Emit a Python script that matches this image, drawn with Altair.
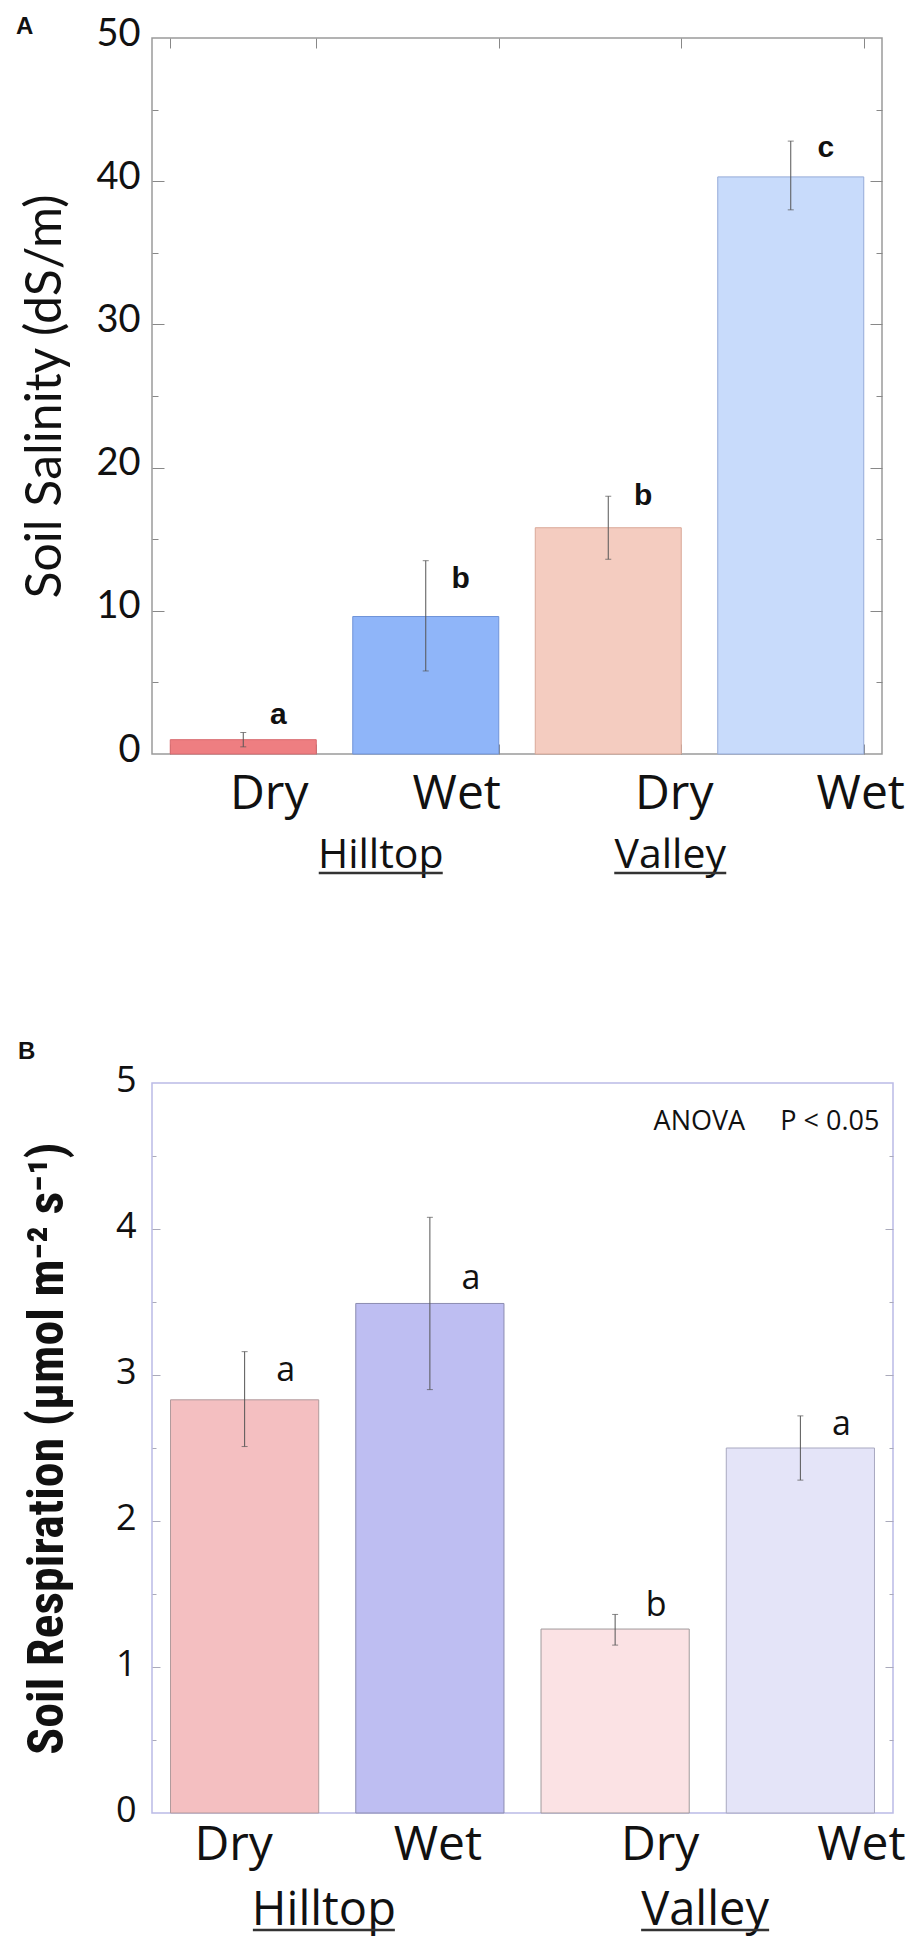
import altair as alt
import pandas as pd

# ---------------- data ----------------
categories = ["Hilltop Dry", "Hilltop Wet", "Valley Dry", "Valley Wet"]
groups = ["Hilltop", "Valley"]

salinity_mean = [1.0, 9.6, 15.8, 40.3]
salinity_low = [0.5, 5.8, 13.6, 38.0]
salinity_high = [1.5, 13.5, 18.0, 42.8]
salinity_letters = ["a", "b", "b", "c"]
salinity_letter_y = [2.7, 12.2, 18.0, 42.3]

resp_mean = [2.83, 3.49, 1.26, 2.50]
resp_low = [2.51, 2.90, 1.15, 2.28]
resp_high = [3.16, 4.08, 1.36, 2.72]
resp_letters = ["a", "a", "b", "a"]
resp_letter_y = [3.03, 3.66, 1.42, 2.66]

sal_labels = [0, 10, 20, 30, 40, 50]
sal_major = [10, 20, 30, 40]
sal_minor = [5, 15, 25, 35, 45]
resp_labels = [0, 1, 2, 3, 4, 5]
resp_major = [1, 2, 3, 4]
resp_minor = [0.5, 1.5, 2.5, 3.5, 4.5]

SANS = "Open Sans, Lato, sans-serif"
GILL = "Lato, Open Sans, sans-serif"
BOLDC = "Roboto Condensed, Liberation Sans Narrow, DejaVu Sans Condensed, DejaVu Sans, sans-serif"


def panel(mean, low, high, letters, letter_y, labels, major, minor, s):
    df = pd.DataFrame({"cat": categories, "mean": mean, "low": low, "high": high,
                       "letter": letters, "ly": letter_y})
    W, H = s["W"], s["H"]
    xs = alt.Scale(domain=categories, paddingInner=0.2, paddingOuter=0.1)
    ys = alt.Scale(domain=[0, labels[-1]], nice=False, zero=True)
    base = alt.Chart(df)

    offs = s["label_offsets"]
    cond = [{"test": f"datum.value == '{c}'", "value": o} for c, o in zip(categories[:3], offs[:3])]
    xaxis = alt.Axis(title=None, ticks=False, domain=False, labelAngle=0,
                     labelExpr="split(datum.label, ' ')[1]",
                     labelFont=SANS, labelFontSize=s["xfs"], labelColor="#111",
                     labelBaseline="alphabetic", labelPadding=s["xpad"],
                     labelOffset={"condition": cond, "value": offs[3]})
    yaxis = alt.Axis(title=s["ytitle"], values=labels, ticks=False, domain=False, grid=False,
                     labelFont=s["yfont"], labelFontSize=s["yfs"], labelColor="#111",
                     labelPadding=s["ypad"], labelOffset=s["yloff"],
                     minExtent=s["ext"], maxExtent=s["ext"],
                     titleFont=s["tfont"], titleFontSize=s["tfs"],
                     titleFontWeight=s["tweight"], titleColor="#111", titlePadding=s["tpad"])

    bars = base.mark_bar(strokeWidth=1).encode(
        x=alt.X("cat:N", scale=xs, axis=xaxis),
        y=alt.Y("mean:Q", scale=ys, axis=yaxis),
        color=alt.Color("cat:N", scale=alt.Scale(domain=categories, range=s["colors"]), legend=None),
        stroke=alt.Stroke("cat:N", scale=alt.Scale(domain=categories, range=s["strokes"]), legend=None),
    )
    whisk = base.mark_rule(color="#555", strokeWidth=1).encode(
        x=alt.X("cat:N", scale=xs, axis=None),
        y=alt.Y("low:Q", scale=ys, axis=None), y2="high:Q")
    caps = base.transform_fold(["low", "high"], as_=["k", "v"]).mark_tick(
        color="#555", thickness=1, size=6).encode(
        x=alt.X("cat:N", scale=xs, axis=None),
        y=alt.Y("v:Q", scale=ys, axis=None))
    letters_l = base.mark_text(font=s["lfont"], fontSize=s["lfs"], fontWeight=s["lweight"],
                               dx=s["ldx"], color="#111", baseline="middle").encode(
        x=alt.X("cat:N", scale=xs, axis=None),
        y=alt.Y("ly:Q", scale=ys, axis=None), text="letter:N")

    def carrier(xaxis_=None, yaxis_=None):
        return base.mark_point(opacity=0, size=1).encode(
            x=alt.X("cat:N", scale=xs, axis=xaxis_),
            y=alt.Y("mean:Q", scale=ys, axis=yaxis_))

    tc = s["tickcolor"]

    def yt(orient, vals, size):
        return alt.Axis(orient=orient, offset=-W, values=vals, labels=False, domain=False,
                        ticks=True, tickSize=size, tickColor=tc, tickWidth=1, title=None, grid=False)

    layers = [bars, whisk, caps, letters_l,
              carrier(None, yt("right", major, s["tmaj"])),
              carrier(None, yt("right", minor, s["tmin"])),
              carrier(None, yt("left", major, s["tmaj"])),
              carrier(None, yt("left", minor, s["tmin"]))]
    if s["xticks"]:
        for orient in ["top", "bottom"]:
            layers.append(carrier(alt.Axis(orient=orient, offset=-H, labels=False, domain=False,
                                           ticks=True, tickBand="extent", tickSize=s["tmaj"] - 2,
                                           tickColor=tc, title=None, grid=False), None))

    # group labels (underlined)
    for g, anchor, dx, hw in s["groups"]:
        gdf = pd.DataFrame({"cat": [anchor], "g": [g]})
        layers.append(alt.Chart(gdf).mark_text(font=SANS, fontSize=s["gfs"], dx=dx, color="#111",
                                               baseline="alphabetic").encode(
            x=alt.X("cat:N", scale=xs, axis=None), y=alt.value(H + s["gy"]), text="g:N"))
        layers.append(alt.Chart(gdf).mark_rule(color="#333", strokeWidth=2.5,
                                               xOffset=dx - hw, x2Offset=dx + hw).encode(
            x=alt.X("cat:N", scale=xs, axis=None), x2="cat:N", y=alt.value(H + s["gy"] + 5)))

    if s.get("anova"):
        adf = pd.DataFrame({"cat": ["Valley Wet"],
                            "t": ["ANOVA" + "\u00a0" * 5 + "P < 0.05"],
                            "v": [4.73]})
        layers.append(alt.Chart(adf).mark_text(font=SANS, fontSize=27, align="right", dx=79,
                                               color="#111", baseline="middle").encode(
            x=alt.X("cat:N", scale=xs, axis=None), y=alt.Y("v:Q", scale=ys, axis=None), text="t:N"))

    return alt.layer(*layers).resolve_axis(x="independent", y="independent").properties(
        width=W, height=H,
        view=alt.ViewBackground(stroke=s["frame"], strokeWidth=1.5),
        title=alt.TitleParams(s["panel"], anchor="start", frame="bounds", fontSize=24,
                              fontWeight="bold", font="Liberation Sans", color="#111",
                              offset=s["toff"], dx=-4))


style_a = dict(W=730, H=716, label_offsets=[26, 31, 66, 70], xfs=48, xpad=54,
               ytitle="Soil Salinity (dS/m)", yfont=GILL, yfs=38, ypad=12, yloff=-4, ext=60,
               tfont=GILL, tfs=50, tweight="normal", tpad=22,
               colors=["#EE7E81", "#8FB5F9", "#F4CCC0", "#C8DBFB"],
               strokes=["#D86A6E", "#6F93D8", "#D9A898", "#95AAD8"],
               lfont="Liberation Sans", lfs=30, lweight="bold", ldx=35,
               tickcolor="#888", tmaj=12, tmin=6, xticks=True, frame="#9A9A9A",
               groups=[("Hilltop", "Hilltop Wet", -45, 62), ("Valley", "Valley Dry", 62, 56)],
               gfs=41, gy=114, panel="A", toff=-24)

style_b = dict(W=741, H=730, label_offsets=[-11, 8, 45, 61], xfs=48, xpad=46,
               ytitle="Soil Respiration (\u03bcmol m\u207b\u00b2 s\u207b\u00b9)", yfont=SANS, yfs=36,
               ypad=16, yloff=-3, ext=60, tfont=BOLDC, tfs=50, tweight="bold", tpad=20,
               colors=["#F4BFC1", "#BEBEF2", "#FBE2E4", "#E4E4F8"],
               strokes=["#B09A9C", "#8C8CB0", "#A09A9C", "#A8A8C0"],
               lfont=SANS, lfs=34, lweight="normal", ldx=41,
               tickcolor="#AAB", tmaj=8, tmin=4, xticks=False, frame="#BBBBE6",
               groups=[("Hilltop", "Hilltop Wet", -106, 71), ("Valley", "Valley Dry", 90, 64)],
               gfs=47, gy=112, panel="B", toff=-2, anova=True)

chart_a = panel(salinity_mean, salinity_low, salinity_high, salinity_letters, salinity_letter_y,
                sal_labels, sal_major, sal_minor, style_a)
chart_b = panel(resp_mean, resp_low, resp_high, resp_letters, resp_letter_y,
                resp_labels, resp_major, resp_minor, style_b)

chart = alt.vconcat(chart_a, chart_b, spacing=329, bounds="flush").resolve_scale(
    color="independent", stroke="independent").properties(
    padding={"left": 7, "top": 6, "right": 0, "bottom": 3}).configure(background="white")

chart.save("out.html", embed_options={"renderer": "svg", "actions": False})
